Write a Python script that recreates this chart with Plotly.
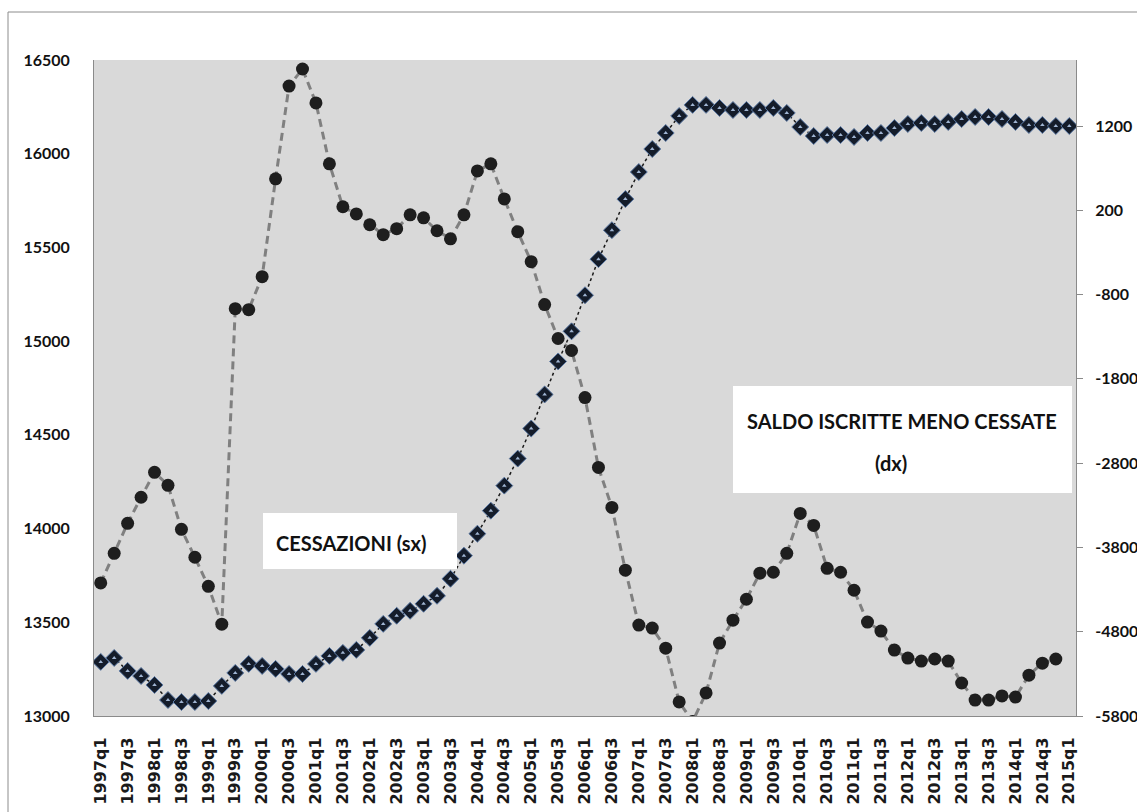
import plotly.graph_objects as go

# Categories: quarters 1997q1 .. 2015q1
quarters = [f"{y}q{q}" for y in range(1997, 2016) for q in range(1, 5)][:73]
tick_labels = quarters[::2]

# Cessazioni (left axis), 1997q1 .. 2014q4
cessazioni = [13710, 13868, 14028, 14167, 14300, 14231, 13996, 13847, 13692, 13490,
              15173, 15168, 15344, 15866, 16361, 16452, 16271, 15946, 15717, 15679,
              15621, 15568, 15600, 15674, 15658, 15589, 15546, 15674, 15908, 15946,
              15759, 15584, 15424, 15195, 15014, 14950, 14699, 14326, 14113, 13778,
              13485, 13469, 13362, 13075, 12970, 13123, 13389, 13511, 13623, 13762,
              13767, 13868, 14081, 14017, 13788, 13767, 13671, 13501, 13453, 13352,
              13309, 13293, 13304, 13293, 13176, 13085, 13085, 13107, 13101, 13218,
              13282, 13304]

# Saldo iscritte meno cessate (right axis), 1997q1 .. 2015q1
saldo = [-5158, -5111, -5265, -5325, -5432, -5610, -5634, -5634, -5622, -5443,
         -5289, -5182, -5206, -5241, -5301, -5301, -5182, -5087, -5051, -5016,
         -4873, -4707, -4611, -4552, -4469, -4374, -4172, -3898, -3637, -3364,
         -3067, -2746, -2389, -1985, -1593, -1236, -808, -380, -36, 333,
         654, 927, 1117, 1319, 1450, 1450, 1414, 1390, 1390, 1390,
         1414, 1355, 1188, 1081, 1093, 1093, 1070, 1117, 1117, 1176,
         1224, 1236, 1224, 1248, 1283, 1307, 1307, 1283, 1248, 1212,
         1212, 1200, 1200]

left_ticks = [13000, 13500, 14000, 14500, 15000, 15500, 16000, 16500]
right_ticks = [-5800, -4800, -3800, -2800, -1800, -800, 200, 1200]

W, H = 1137, 812
L, R, T, B = 94, 61, 60, 96
PW, PH = W - L - R, H - T - B


def px(x):
    return (x - L) / PW


def py(y):
    return (H - B - y) / PH


fig = go.Figure()

fig.add_trace(go.Scatter(
    x=quarters[:len(cessazioni)], y=cessazioni, mode="lines+markers",
    name="CESSAZIONI (sx)",
    line=dict(color="#808080", width=3, dash="8px,5px"),
    marker=dict(symbol="circle", size=13, color="#1e1e1e"),
    yaxis="y",
))

fig.add_trace(go.Scatter(
    x=quarters[:len(saldo)], y=saldo, mode="lines+markers",
    name="SALDO ISCRITTE MENO CESSATE (dx)",
    line=dict(color="#1a1a1a", width=1.5, dash="dot"),
    marker=dict(symbol="diamond", size=13, color="#141c2a",
                line=dict(color="#5a78a3", width=1)),
    yaxis="y2",
))
fig.add_trace(go.Scatter(
    x=quarters[:len(saldo)], y=saldo, mode="markers",
    marker=dict(symbol="triangle-up", size=4, color="#9fb4d2"),
    yaxis="y2", hoverinfo="skip",
))

tickfont_y = dict(family="Lato, Open Sans, sans-serif", size=16, color="#111111", weight="bold")

fig.update_layout(
    width=W, height=H,
    margin=dict(l=L, r=R, t=T, b=B, autoexpand=False),
    paper_bgcolor="white",
    plot_bgcolor="#d9d9d9",
    showlegend=False,
    xaxis=dict(
        type="category", categoryorder="array", categoryarray=quarters,
        range=[-0.5, len(quarters) - 0.5],
        tickmode="array", tickvals=tick_labels, ticktext=tick_labels,
        tickangle=-90,
        tickfont=dict(family="DejaVu Sans, sans-serif", size=16, color="#1a1a1a", weight="bold"),
        showgrid=False, zeroline=False,
        showline=True, linecolor="#8a8a8a", linewidth=1,
        ticks="", ticklabelstandoff=14, automargin=False,
    ),
    yaxis=dict(
        range=[13000, 16500], tickmode="array", tickvals=left_ticks,
        ticktext=[str(v) for v in left_ticks],
        tickfont=tickfont_y, showgrid=False, zeroline=False,
        showline=True, linecolor="#8a8a8a", linewidth=1,
        ticks="", ticklabelstandoff=20, automargin=False,
    ),
    yaxis2=dict(
        range=[-5800, 1983], overlaying="y", side="right",
        tickmode="array", tickvals=right_ticks,
        ticktext=[str(v) for v in right_ticks],
        tickfont=tickfont_y, showgrid=False, zeroline=False,
        showline=True, linecolor="#8a8a8a", linewidth=1,
        ticks="outside", ticklen=6, tickcolor="#8a8a8a",
        ticklabelstandoff=9, automargin=False,
    ),
)

# outer chart border
fig.add_shape(type="rect", xref="paper", yref="paper",
              x0=px(8), x1=px(1145), y0=py(830), y1=py(12),
              line=dict(color="#8c8c8c", width=1), fillcolor="rgba(0,0,0,0)",
              layer="below")

# text boxes
fig.add_shape(type="rect", xref="paper", yref="paper",
              x0=px(263), x1=px(457), y0=py(569), y1=py(513),
              line=dict(width=0), fillcolor="white", layer="above")
fig.add_shape(type="rect", xref="paper", yref="paper",
              x0=px(733), x1=px(1072), y0=py(493), y1=py(386),
              line=dict(width=0), fillcolor="white", layer="above")

ann_font = dict(family="Lato, Open Sans, sans-serif", size=20, color="#111111", weight="bold")
fig.add_annotation(text="CESSAZIONI (sx)", xref="paper", yref="paper",
                   x=px(351), y=py(543), showarrow=False, font=ann_font,
                   xanchor="center", yanchor="middle")
fig.add_annotation(text="SALDO ISCRITTE MENO CESSATE", xref="paper", yref="paper",
                   x=px(902), y=py(421), showarrow=False, font=ann_font,
                   xanchor="center", yanchor="middle")
fig.add_annotation(text="(dx)", xref="paper", yref="paper",
                   x=px(891), y=py(463), showarrow=False, font=ann_font,
                   xanchor="center", yanchor="middle")

fig.write_html("out.html")
